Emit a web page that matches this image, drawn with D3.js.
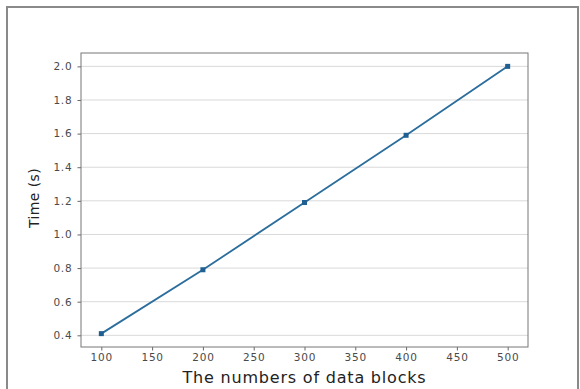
<!DOCTYPE html>
<html>
<head>
<meta charset="utf-8">
<script src="https://cdn.jsdelivr.net/npm/d3@7"></script>
<style>
  html, body { margin: 0; padding: 0; background: #fff; }
  svg { display: block; font-family: "DejaVu Sans", sans-serif; }
</style>
</head>
<body>
<svg id="chart" width="580" height="389"></svg>
<script>
// Processing time versus number of data blocks
const blocks = [100, 200, 300, 400, 500];
const times = [0.41, 0.79, 1.19, 1.59, 2.0];
const xTicks = [100, 150, 200, 250, 300, 350, 400, 450, 500];
const yTicks = [0.4, 0.6, 0.8, 1.0, 1.2, 1.4, 1.6, 1.8, 2.0];

const svg = d3.select("#chart");
const plot = { left: 81, right: 528, top: 53, bottom: 347 };

// outer frame
svg.append("rect")
  .attr("x", 7).attr("y", 7)
  .attr("width", 571).attr("height", 400)
  .attr("fill", "none")
  .attr("stroke", "#8a8a8a")
  .attr("stroke-width", 2);

const x = d3.scaleLinear().domain([80, 520]).range([plot.left, plot.right]);
const y = d3.scaleLinear().domain([0.3305, 2.0795]).range([plot.bottom, plot.top]);

// horizontal grid
svg.append("g")
  .selectAll("line")
  .data(yTicks)
  .join("line")
  .attr("x1", plot.left).attr("x2", plot.right)
  .attr("y1", d => y(d)).attr("y2", d => y(d))
  .attr("stroke", "#d9d9d9")
  .attr("stroke-width", 1);

// axes
const xAxis = svg.append("g")
  .attr("transform", `translate(0,${plot.bottom})`)
  .call(d3.axisBottom(x).tickValues(xTicks).tickFormat(d3.format("d")).tickSize(3.5).tickPadding(3));
const yAxis = svg.append("g")
  .attr("transform", `translate(${plot.left},0)`)
  .call(d3.axisLeft(y).tickValues(yTicks).tickFormat(d3.format(".1f")).tickSize(3.5).tickPadding(5));

[xAxis, yAxis].forEach(g => {
  g.select(".domain").remove();
  g.selectAll(".tick line").attr("stroke", "#666");
  g.selectAll(".tick text")
    .attr("fill", "#4a4a4a")
    .style("font-size", "10.5px")
    .style("letter-spacing", "0.8px")
    .style("font-family", "DejaVu Sans, sans-serif");
});

// plot frame
svg.append("rect")
  .attr("x", plot.left).attr("y", plot.top)
  .attr("width", plot.right - plot.left).attr("height", plot.bottom - plot.top)
  .attr("fill", "none")
  .attr("stroke", "#777")
  .attr("stroke-width", 1);

// series line
const pts = blocks.map((b, i) => [b, times[i]]);
svg.append("path")
  .datum(pts)
  .attr("fill", "none")
  .attr("stroke", "#2b6d9c")
  .attr("stroke-width", 1.8)
  .attr("d", d3.line().x(d => x(d[0])).y(d => y(d[1])));

svg.append("g")
  .selectAll("rect")
  .data(pts)
  .join("rect")
  .attr("x", d => x(d[0]) - 2.5)
  .attr("y", d => y(d[1]) - 2.5)
  .attr("width", 5).attr("height", 5)
  .attr("fill", "#1f5f92");

// axis titles
svg.append("text")
  .attr("x", (plot.left + plot.right) / 2)
  .attr("y", 383)
  .attr("text-anchor", "middle")
  .attr("fill", "#222")
  .style("font-size", "16px")
  .style("letter-spacing", "0.8px")
  .text("The numbers of data blocks");

svg.append("text")
  .attr("transform", `translate(39,${(plot.top + plot.bottom) / 2 - 2}) rotate(-90)`)
  .attr("text-anchor", "middle")
  .attr("fill", "#222")
  .style("font-size", "14px")
  .style("letter-spacing", "0.4px")
  .text("Time (s)");
</script>
</body>
</html>
